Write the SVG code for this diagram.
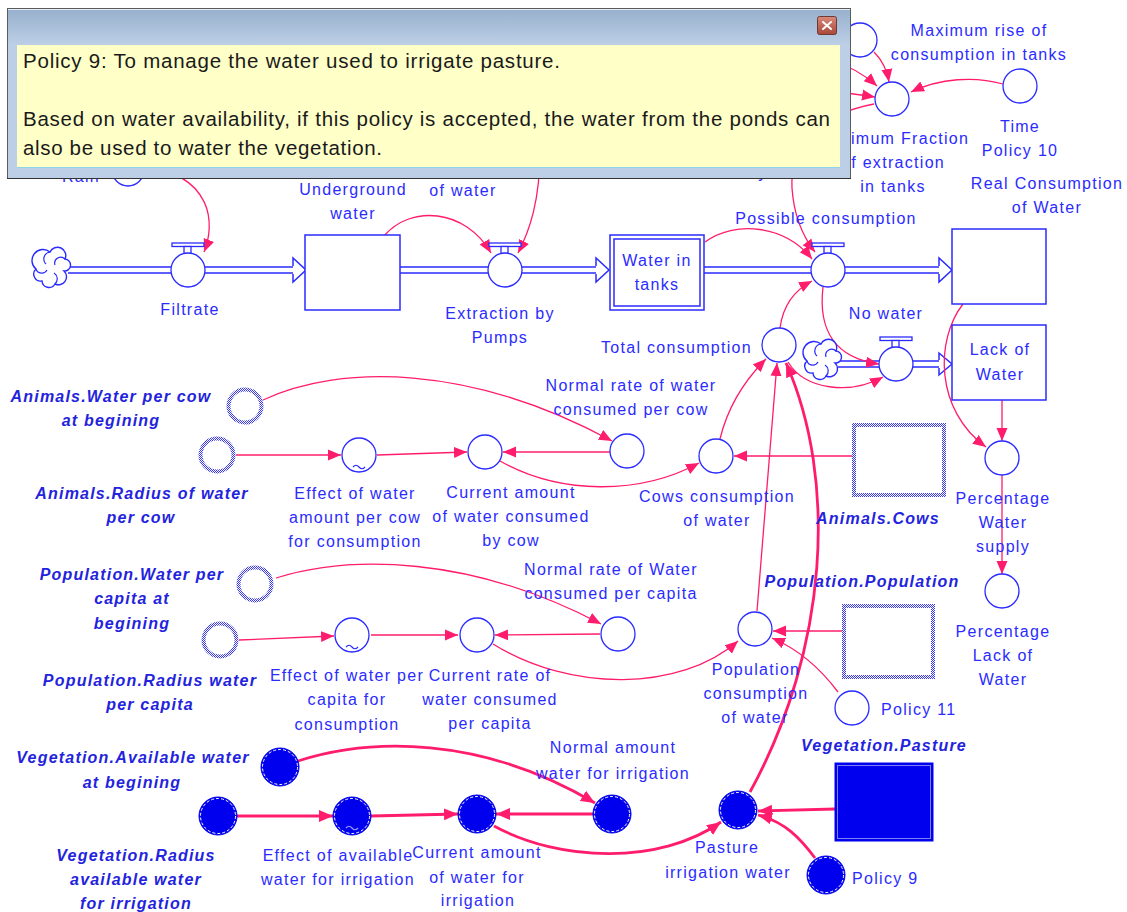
<svg xmlns="http://www.w3.org/2000/svg" width="1127" height="912" viewBox="0 0 1127 912">
<defs>
<style>
.lbl{font-family:"Liberation Sans",Arial,sans-serif;font-size:16px;fill:#2b2bff;letter-spacing:1.3px;text-anchor:middle}
.lbs{font-family:"Liberation Sans",Arial,sans-serif;font-size:16px;fill:#2b2bff;letter-spacing:1.3px}
.ext{font-family:"Liberation Sans",Arial,sans-serif;font-size:16px;font-weight:bold;font-style:italic;fill:#2323dd;letter-spacing:1.2px;text-anchor:middle}
.aux{fill:#fff;stroke:#2b2bff;stroke-width:1.3}
.stock{fill:#fff;stroke:#2b2bff;stroke-width:1.5}
.ghost{fill:#fff;stroke:url(#hatch);stroke-width:4}
.veg{fill:#0000ee;stroke:#0000ee;stroke-width:1}
.vegrim{fill:none;stroke:#fff;stroke-width:1;stroke-dasharray:3 2}
.tilde{fill:none;stroke:#2b2bff;stroke-width:1.2}
.tildew{fill:none;stroke:#9a9aff;stroke-width:1.2}
.lnk{fill:none;stroke:#ff1c6c;stroke-width:1.3;marker-end:url(#ah)}
.lnk2{fill:none;stroke:#ff1c6c;stroke-width:2.8;marker-end:url(#ah2)}
.pipeo{stroke:#2b2bff;stroke-width:7.5;fill:none}
.pipei{stroke:#fff;stroke-width:4.5;fill:none}
.tip{fill:#fff;stroke:#2b2bff;stroke-width:1.5}
.cloud{fill:#fff;stroke:#2b2bff;stroke-width:1.4}
.ptxt{font-family:"Liberation Sans",Arial,sans-serif;font-size:20.5px;fill:#1a1a1a}
</style>
<pattern id="hatch" width="2" height="2" patternUnits="userSpaceOnUse">
<rect width="2" height="2" fill="#ffffff"/>
<rect width="1" height="1" fill="#3636ff"/>
<rect x="1" y="1" width="1" height="1" fill="#3636ff"/>
</pattern>
<linearGradient id="titleg" x1="0" y1="0" x2="0" y2="1">
<stop offset="0" stop-color="#97b0cd"/>
<stop offset="1" stop-color="#bccfe6"/>
</linearGradient>
<linearGradient id="closeg" x1="0" y1="0" x2="0" y2="1">
<stop offset="0" stop-color="#d88a7c"/>
<stop offset="1" stop-color="#a8473a"/>
</linearGradient>
<marker id="ah" markerUnits="userSpaceOnUse" markerWidth="14" markerHeight="12" refX="13" refY="6" orient="auto" viewBox="0 0 14 12">
<path d="M0,0.5 L13,6 L0,11.5 Z" fill="#ff1c6c"/>
</marker>
<marker id="ah2" markerUnits="userSpaceOnUse" markerWidth="15" markerHeight="13" refX="14" refY="6.5" orient="auto" viewBox="0 0 15 13">
<path d="M0,0.5 L14,6.5 L0,12.5 Z" fill="#ff1c6c"/>
</marker>
<g id="cloudshape">
<path class="cloud" d="M-2,-16 A8,8 0 0 1 13,-9 A6,6 0 0 1 12,3 A8,8 0 0 1 3,16 A7,7 0 0 1 -10,13 A7,7 0 0 1 -16,1 A8,8 0 0 1 -2,-16 Z"/>
<path fill="none" stroke="#2b2bff" stroke-width="1.2" d="M-2,-16 A7,7 0 0 0 -6,-4 M13,-9 A6,6 0 0 0 3,-3 M3,16 A7,7 0 0 0 2,5 M-16,1 A6,6 0 0 0 -5,2"/>
</g>
<g id="valvetop">
<rect x="-16" y="-27" width="32" height="3.5" fill="#fff" stroke="#2b2bff" stroke-width="1.3"/>
<rect x="-4" y="-23.5" width="7" height="7" fill="#fff" stroke="#2b2bff" stroke-width="1.3"/>
</g>
<path id="wave" d="M-6,12 q3,-3.5 6,0 t6,0"/>
</defs>

<rect width="1127" height="912" fill="#ffffff"/>

<!-- flows and information links -->
<g id="connectors">
<!-- material flow pipes -->
<path class="pipeo" d="M68,270 H293 M400,270 H596 M704,270 H939 M838,364 H939"/>
<path class="pipei" d="M66,270 H294 M399,270 H597 M703,270 H940 M836,364 H940"/>
<path class="tip" d="M293,266 V258 L306,270 L293,282 V274"/>
<path class="tip" d="M596,266 V258 L609,270 L596,282 V274"/>
<path class="tip" d="M939,266 V258 L952,270 L939,282 V274"/>
<path class="tip" d="M939,360 V353 L952,364 L939,375 V368"/>

<!-- thin links -->
<path class="lnk" d="M140,165 C215,175 215,225 204,252"/>
<path class="lnk" d="M384,236 C410,205 465,208 491,253"/>
<path class="lnk" d="M540,150 C540,200 530,230 518,253"/>
<path class="lnk" d="M705,242 C735,220 785,225 812,259"/>
<path class="lnk" d="M874,104 C815,115 790,150 792,188 C794,218 804,238 815,252"/>
<path class="lnk" d="M780,328 C783,305 795,290 812,281"/>
<path class="lnk" d="M823,287 C818,330 835,358 879,364"/>
<path class="lnk" d="M788,362 C805,390 850,395 883,377"/>
<path class="lnk" d="M963,304 C935,340 935,410 986,447"/>
<path class="lnk" d="M1002,400 L1002,441"/>
<path class="lnk" d="M1002,475 L1002,574"/>
<path class="lnk" d="M1003,84 C975,76 940,78 911,92"/>
<path class="lnk" d="M874,52 C882,60 887,70 889,82"/>
<path class="lnk" d="M830,60 C850,66 865,75 877,86"/>
<path class="lnk" d="M830,92 C850,93 862,95 875,97"/>
<path class="lnk" d="M263,400 C340,364 470,364 612,441"/>
<path class="lnk" d="M236,455 L341,455"/>
<path class="lnk" d="M377,455 L467,452"/>
<path class="lnk" d="M610,452 L503,452"/>
<path class="lnk" d="M500,461 C560,495 640,495 699,463"/>
<path class="lnk" d="M852,456 L734,456"/>
<path class="lnk" d="M720,439 C727,410 742,383 766,359"/>
<path class="lnk" d="M757,611 C765,520 772,430 777,363"/>
<path class="lnk" d="M276,578 C350,555 470,555 601,624"/>
<path class="lnk" d="M239,640 L334,636"/>
<path class="lnk" d="M371,635 L458,635"/>
<path class="lnk" d="M600,634 L495,635"/>
<path class="lnk" d="M493,644 C570,692 680,692 738,641"/>
<path class="lnk" d="M842,631 L773,631"/>
<path class="lnk" d="M838,692 C820,668 800,650 772,638"/>

<!-- thick links -->
<path class="lnk2" d="M750,792 C828,650 838,480 786,363"/>
<path class="lnk2" d="M298,761 C370,738 480,735 595,803"/>
<path class="lnk2" d="M237,816 L333,816"/>
<path class="lnk2" d="M371,816 L458,814"/>
<path class="lnk2" d="M593,814 L496,814"/>
<path class="lnk2" d="M494,826 C560,862 660,865 721,822"/>
<path class="lnk2" d="M835,809 L758,811"/>
<path class="lnk2" d="M815,858 C800,838 785,822 758,815"/>
</g>

<!-- top row -->
<g id="rain">
<circle class="aux" cx="128" cy="170" r="16"/>
<text class="lbl" x="81" y="182">Rain</text>
</g>
<g id="source1"><use href="#cloudshape" transform="translate(52,268)"/></g>
<g id="filtrate">
<g transform="translate(188,270)"><use href="#valvetop"/><circle class="aux" r="17"/></g>
<text class="lbl" x="190" y="315">Filtrate</text>
</g>
<g id="underground">
<rect class="stock" x="305" y="235" width="95" height="75"/>
<text class="lbl" x="353" y="195">Underground</text>
<text class="lbl" x="353" y="219">water</text>
</g>
<g id="pump-input"><text class="lbl" x="463" y="196">of water</text></g>
<g id="extraction">
<g transform="translate(505,270)"><use href="#valvetop"/><circle class="aux" r="17"/></g>
<text class="lbl" x="500" y="319">Extraction by</text>
<text class="lbl" x="500" y="343">Pumps</text>
</g>
<g id="tanks">
<rect class="stock" x="610" y="235" width="94" height="75"/>
<rect class="stock" x="614" y="239" width="86" height="67"/>
<text class="lbl" x="657" y="266">Water in</text>
<text class="lbl" x="657" y="290">tanks</text>
</g>
<g id="possible">
<g transform="translate(828,270)"><use href="#valvetop"/><circle class="aux" r="17"/></g>
<text class="lbl" x="826" y="224">Possible consumption</text>
</g>
<g id="real">
<rect class="stock" x="952" y="229" width="94" height="75"/>
<text class="lbl" x="1047" y="189">Real Consumption</text>
<text class="lbl" x="1047" y="213">of Water</text>
</g>
<g id="maxrise">
<circle class="aux" cx="860" cy="40" r="17"/>
<text class="lbl" x="979" y="36">Maximum rise of</text>
<text class="lbl" x="979" y="60">consumption in tanks</text>
</g>
<g id="maxfraction">
<circle class="aux" cx="892" cy="99" r="17"/>
<text class="lbl" x="893" y="144">Maximum Fraction</text>
<text class="lbl" x="893" y="168">of extraction</text>
<text class="lbl" x="893" y="192">in tanks</text>
</g>
<g id="timepolicy10">
<circle class="aux" cx="1020" cy="86" r="17"/>
<text class="lbl" x="1020" y="132">Time</text>
<text class="lbl" x="1020" y="156">Policy 10</text>
</g>
<g id="tank-policy"><text class="lbl" x="763" y="178">y</text></g>
<g id="source2"><use href="#cloudshape" transform="translate(823,360)"/></g>
<g id="nowater">
<g transform="translate(896,364)"><use href="#valvetop"/><circle class="aux" r="17"/></g>
<text class="lbl" x="886" y="319">No water</text>
</g>
<g id="lack">
<rect class="stock" x="952" y="325" width="94" height="75"/>
<text class="lbl" x="1000" y="355">Lack of</text>
<text class="lbl" x="1000" y="380">Water</text>
</g>
<g id="total">
<circle class="aux" cx="779" cy="345" r="17"/>
<text class="lbs" x="752" y="353" text-anchor="end">Total consumption</text>
</g>
<g id="pctsupply">
<circle class="aux" cx="1002" cy="458" r="17"/>
<text class="lbl" x="1003" y="504">Percentage</text>
<text class="lbl" x="1003" y="528">Water</text>
<text class="lbl" x="1003" y="552">supply</text>
</g>
<g id="pctlack">
<circle class="aux" cx="1002" cy="591" r="17"/>
<text class="lbl" x="1003" y="637">Percentage</text>
<text class="lbl" x="1003" y="661">Lack of</text>
<text class="lbl" x="1003" y="685">Water</text>
</g>

<!-- animals -->
<g id="cowwater0">
<circle class="ghost" cx="245" cy="406" r="16.5"/>
<text class="ext" x="111" y="402">Animals.Water per cow</text>
<text class="ext" x="111" y="426">at begining</text>
</g>
<g id="normalcow">
<circle class="aux" cx="627" cy="451" r="17"/>
<text class="lbl" x="631" y="391">Normal rate of water</text>
<text class="lbl" x="631" y="415">consumed per cow</text>
</g>
<g id="cowradius">
<circle class="ghost" cx="217" cy="455" r="16.5"/>
<text class="ext" x="142" y="499">Animals.Radius of water</text>
<text class="ext" x="141" y="523">per cow</text>
</g>
<g id="effectcow">
<circle class="aux" cx="359" cy="455" r="17"/>
<use href="#wave" class="tilde" transform="translate(359,455)"/>
<text class="lbl" x="355" y="499">Effect of water</text>
<text class="lbl" x="355" y="523">amount per cow</text>
<text class="lbl" x="355" y="547">for consumption</text>
</g>
<g id="currentcow">
<circle class="aux" cx="485" cy="452" r="17"/>
<text class="lbl" x="511" y="498">Current amount</text>
<text class="lbl" x="511" y="522">of water consumed</text>
<text class="lbl" x="511" y="546">by cow</text>
</g>
<g id="cowsconsumption">
<circle class="aux" cx="716" cy="456" r="17"/>
<text class="lbl" x="717" y="502">Cows consumption</text>
<text class="lbl" x="717" y="526">of water</text>
</g>
<g id="cows">
<rect class="ghost" x="854" y="425" width="90" height="70"/>
<text class="ext" x="878" y="524">Animals.Cows</text>
</g>

<!-- population -->
<g id="capitawater0">
<circle class="ghost" cx="255" cy="584" r="16.5"/>
<text class="ext" x="132" y="580">Population.Water per</text>
<text class="ext" x="132" y="604">capita at</text>
<text class="ext" x="132" y="629">begining</text>
</g>
<g id="normalcapita">
<circle class="aux" cx="618" cy="634" r="17"/>
<text class="lbl" x="611" y="575">Normal rate of Water</text>
<text class="lbl" x="611" y="599">consumed per capita</text>
</g>
<g id="capitaradius">
<circle class="ghost" cx="220" cy="640" r="16.5"/>
<text class="ext" x="150" y="686">Population.Radius water</text>
<text class="ext" x="150" y="710">per capita</text>
</g>
<g id="effectcapita">
<circle class="aux" cx="352" cy="635" r="17"/>
<use href="#wave" class="tilde" transform="translate(352,635)"/>
<text class="lbl" x="347" y="681">Effect of water per</text>
<text class="lbl" x="347" y="705">capita for</text>
<text class="lbl" x="347" y="730">consumption</text>
</g>
<g id="currentcapita">
<circle class="aux" cx="477" cy="635" r="17"/>
<text class="lbl" x="490" y="681">Current rate of</text>
<text class="lbl" x="490" y="705">water consumed</text>
<text class="lbl" x="490" y="729">per capita</text>
</g>
<g id="popconsumption">
<circle class="aux" cx="755" cy="629" r="17"/>
<text class="lbl" x="756" y="675">Population</text>
<text class="lbl" x="756" y="699">consumption</text>
<text class="lbl" x="755" y="723">of water</text>
</g>
<g id="population">
<rect class="ghost" x="844" y="606" width="89" height="71"/>
<text class="ext" x="862" y="587">Population.Population</text>
</g>
<g id="policy11">
<circle class="aux" cx="852" cy="708" r="17"/>
<text class="lbs" x="881" y="715">Policy 11</text>
</g>

<!-- vegetation -->
<g id="vegwater0">
<circle class="veg" cx="280" cy="767" r="19"/>
<circle class="vegrim" cx="280" cy="767" r="17.5"/>
<text class="ext" x="133" y="763">Vegetation.Available water</text>
<text class="ext" x="132" y="788">at begining</text>
</g>
<g id="normalirrigation">
<circle class="veg" cx="612" cy="814" r="19"/>
<circle class="vegrim" cx="612" cy="814" r="17.5"/>
<text class="lbl" x="613" y="753">Normal amount</text>
<text class="lbl" x="613" y="779">water for irrigation</text>
</g>
<g id="vegradius">
<circle class="veg" cx="218" cy="816" r="19"/>
<circle class="vegrim" cx="218" cy="816" r="17.5"/>
<text class="ext" x="136" y="861">Vegetation.Radius</text>
<text class="ext" x="136" y="885">available water</text>
<text class="ext" x="136" y="909">for irrigation</text>
</g>
<g id="effectirrigation">
<circle class="veg" cx="352" cy="816" r="19"/>
<circle class="vegrim" cx="352" cy="816" r="17.5"/>
<use href="#wave" class="tildew" transform="translate(352,816)"/>
<text class="lbl" x="338" y="861">Effect of available</text>
<text class="lbl" x="338" y="885">water for irrigation</text>
</g>
<g id="currentirrigation">
<circle class="veg" cx="477" cy="814" r="19"/>
<circle class="vegrim" cx="477" cy="814" r="17.5"/>
<text class="lbl" x="477" y="858">Current amount</text>
<text class="lbl" x="477" y="883">of water for</text>
<text class="lbl" x="478" y="906">irrigation</text>
</g>
<g id="pastureirrigation">
<circle class="veg" cx="738" cy="810" r="19"/>
<circle class="vegrim" cx="738" cy="810" r="17.5"/>
<text class="lbl" x="727" y="853">Pasture</text>
<text class="lbl" x="728" y="878">irrigation water</text>
</g>
<g id="pasture">
<rect x="835" y="763" width="98" height="78" fill="#0000ee" stroke="#0000ee"/>
<rect x="837.5" y="765.5" width="93" height="73" fill="none" stroke="#fff" stroke-width="1" stroke-dasharray="1 1"/>
<text class="ext" x="884" y="751">Vegetation.Pasture</text>
</g>
<g id="policy9">
<circle class="veg" cx="826" cy="875" r="19"/>
<circle class="vegrim" cx="826" cy="875" r="17.5"/>
<text class="lbs" x="852" y="884">Policy 9</text>
</g>

<!-- comment window for Policy 9 -->
<g id="popup">
<rect x="7.5" y="8.5" width="843" height="170" fill="#bccfe7" stroke="#5c5c5c" stroke-width="1"/>
<rect x="8" y="9" width="842" height="36" fill="url(#titleg)"/>
<line x1="8" y1="9.5" x2="850" y2="9.5" stroke="#e4ecf6" stroke-width="1"/>
<rect x="17" y="45" width="823" height="122" fill="#ffffc8"/>
<line x1="17" y1="167.5" x2="840" y2="167.5" stroke="#8fd2ec" stroke-width="1"/>
<line x1="7" y1="178.5" x2="851" y2="178.5" stroke="#333" stroke-width="1.2"/>
<rect x="817.5" y="16.5" width="19" height="18" rx="2" fill="url(#closeg)" stroke="#6e3a32" stroke-width="1"/>
<path d="M823,22 L831,29 M831,22 L823,29" stroke="#fff" stroke-width="2" stroke-linecap="round"/>
<text class="ptxt" x="23" y="68" textLength="537" lengthAdjust="spacing">Policy 9: To manage the water used to irrigate pasture.</text>
<text class="ptxt" x="23" y="126" textLength="807" lengthAdjust="spacing">Based on water availability, if this policy is accepted, the water from the ponds can</text>
<text class="ptxt" x="23" y="155" textLength="359" lengthAdjust="spacing">also be used to water the vegetation.</text>
</g>
</svg>
